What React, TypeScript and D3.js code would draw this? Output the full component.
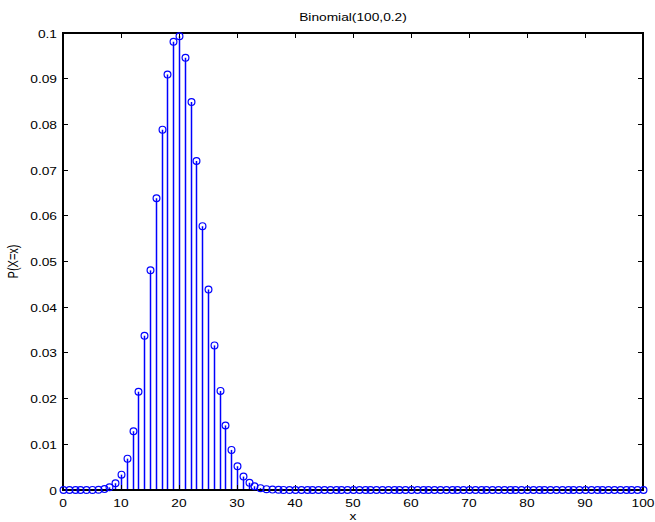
import React from "react";
import * as d3 from "d3";

const xValues: number[] = Array.from({ length: 101 }, (_, i) => i);
const probs: number[] = [
  0, 0, 0, 0, 0.000003, 0.00002, 0.00006, 0.0002, 0.00058, 0.00148,
  0.00336, 0.00686, 0.01286, 0.02151, 0.03376, 0.04806, 0.06383, 0.07885, 0.0909, 0.09807,
  0.0993, 0.09457, 0.0849, 0.07198, 0.05773, 0.04388, 0.03164, 0.02168, 0.01413, 0.00877,
  0.0052, 0.00294, 0.00159, 0.00082, 0.00041, 0.00019, 0.00009, 0.00004, 0.00002, 0.00001,
  0, 0, 0, 0, 0, 0, 0, 0, 0, 0,
  0, 0, 0, 0, 0, 0, 0, 0, 0, 0,
  0, 0, 0, 0, 0, 0, 0, 0, 0, 0,
  0, 0, 0, 0, 0, 0, 0, 0, 0, 0,
  0, 0, 0, 0, 0, 0, 0, 0, 0, 0,
  0, 0, 0, 0, 0, 0, 0, 0, 0, 0,
  0,
];
const xTicks: number[] = [0, 10, 20, 30, 40, 50, 60, 70, 80, 90, 100];
const yTicks: number[] = [0, 0.01, 0.02, 0.03, 0.04, 0.05, 0.06, 0.07, 0.08, 0.09, 0.1];
const yTickLabels: string[] = ["0", "0.01", "0.02", "0.03", "0.04", "0.05", "0.06", "0.07", "0.08", "0.09", "0.1"];
const title = "Binomial(100,0.2)";
const xLabel = "x";
const yLabel = "P(X=x)";

export default function App() {
  const W = 655, H = 522;
  const left = 63, right = 643, top = 33, bottom = 490;
  const x = d3.scaleLinear().domain([0, 100]).range([left, right]);
  const y = d3.scaleLinear().domain([0, 0.1]).range([bottom, top]);
  const font = "'Liberation Sans', Arial, Helvetica, sans-serif";
  const blue = "#0000ff";
  const tl = 5;
  const sx = 1.25;
  const T = (px: number, py: number, s: string, anchor: string) => (
    <g transform={`translate(${px},${py}) scale(${sx},1)`}>
      <text x={0} y={0} textAnchor={anchor} fontFamily={font} fontSize={11} fill="#000">{s}</text>
    </g>
  );
  return (
    <svg width={W} height={H} style={{ position: "absolute", left: 0, top: 0, background: "#fff" }}>
      <rect x={0} y={0} width={W} height={H} fill="#fff" />
      {/* stems */}
      {xValues.map((v, i) => (
        <line key={"s" + i} x1={Math.round(x(v)) + 0.5} x2={Math.round(x(v)) + 0.5} y1={y(0)} y2={y(probs[i])}
          stroke={blue} strokeWidth={1.5} />
      ))}
      {/* box */}
      <rect x={left} y={top} width={right - left} height={bottom - top} fill="none" stroke="#000" strokeWidth={1.3} shapeRendering="crispEdges" />
      {/* x ticks */}
      {xTicks.map((t) => (
        <g key={"xt" + t}>
          <line x1={x(t)} x2={x(t)} y1={bottom} y2={bottom - tl} stroke="#000" shapeRendering="crispEdges" />
          <line x1={x(t)} x2={x(t)} y1={top} y2={top + tl} stroke="#000" shapeRendering="crispEdges" />
          {T(x(t), bottom + 17, String(t), "middle")}
        </g>
      ))}
      {yTicks.map((t, i) => (
        <g key={"yt" + i}>
          <line x1={left} x2={left + tl} y1={y(t)} y2={y(t)} stroke="#000" shapeRendering="crispEdges" />
          <line x1={right} x2={right - tl} y1={y(t)} y2={y(t)} stroke="#000" shapeRendering="crispEdges" />
          {T(left - 6, y(t) + 4.5, yTickLabels[i], "end")}
        </g>
      ))}
      {/* markers */}
      {xValues.map((v, i) => (
        <circle key={"c" + i} cx={Math.round(x(v)) + 0.5} cy={y(probs[i])} r={3.4} fill="none" stroke={blue} strokeWidth={1.2} />
      ))}
      {T((left + right) / 2, 21, title, "middle")}
      {T((left + right) / 2, 520, xLabel, "middle")}
      <g transform={`translate(18,${(top + bottom) / 2}) scale(${sx},1) rotate(-90)`}>
        <text x={0} y={0} textAnchor="middle" fontFamily={font} fontSize={11} fill="#000">{yLabel}</text>
      </g>
    </svg>
  );
}
